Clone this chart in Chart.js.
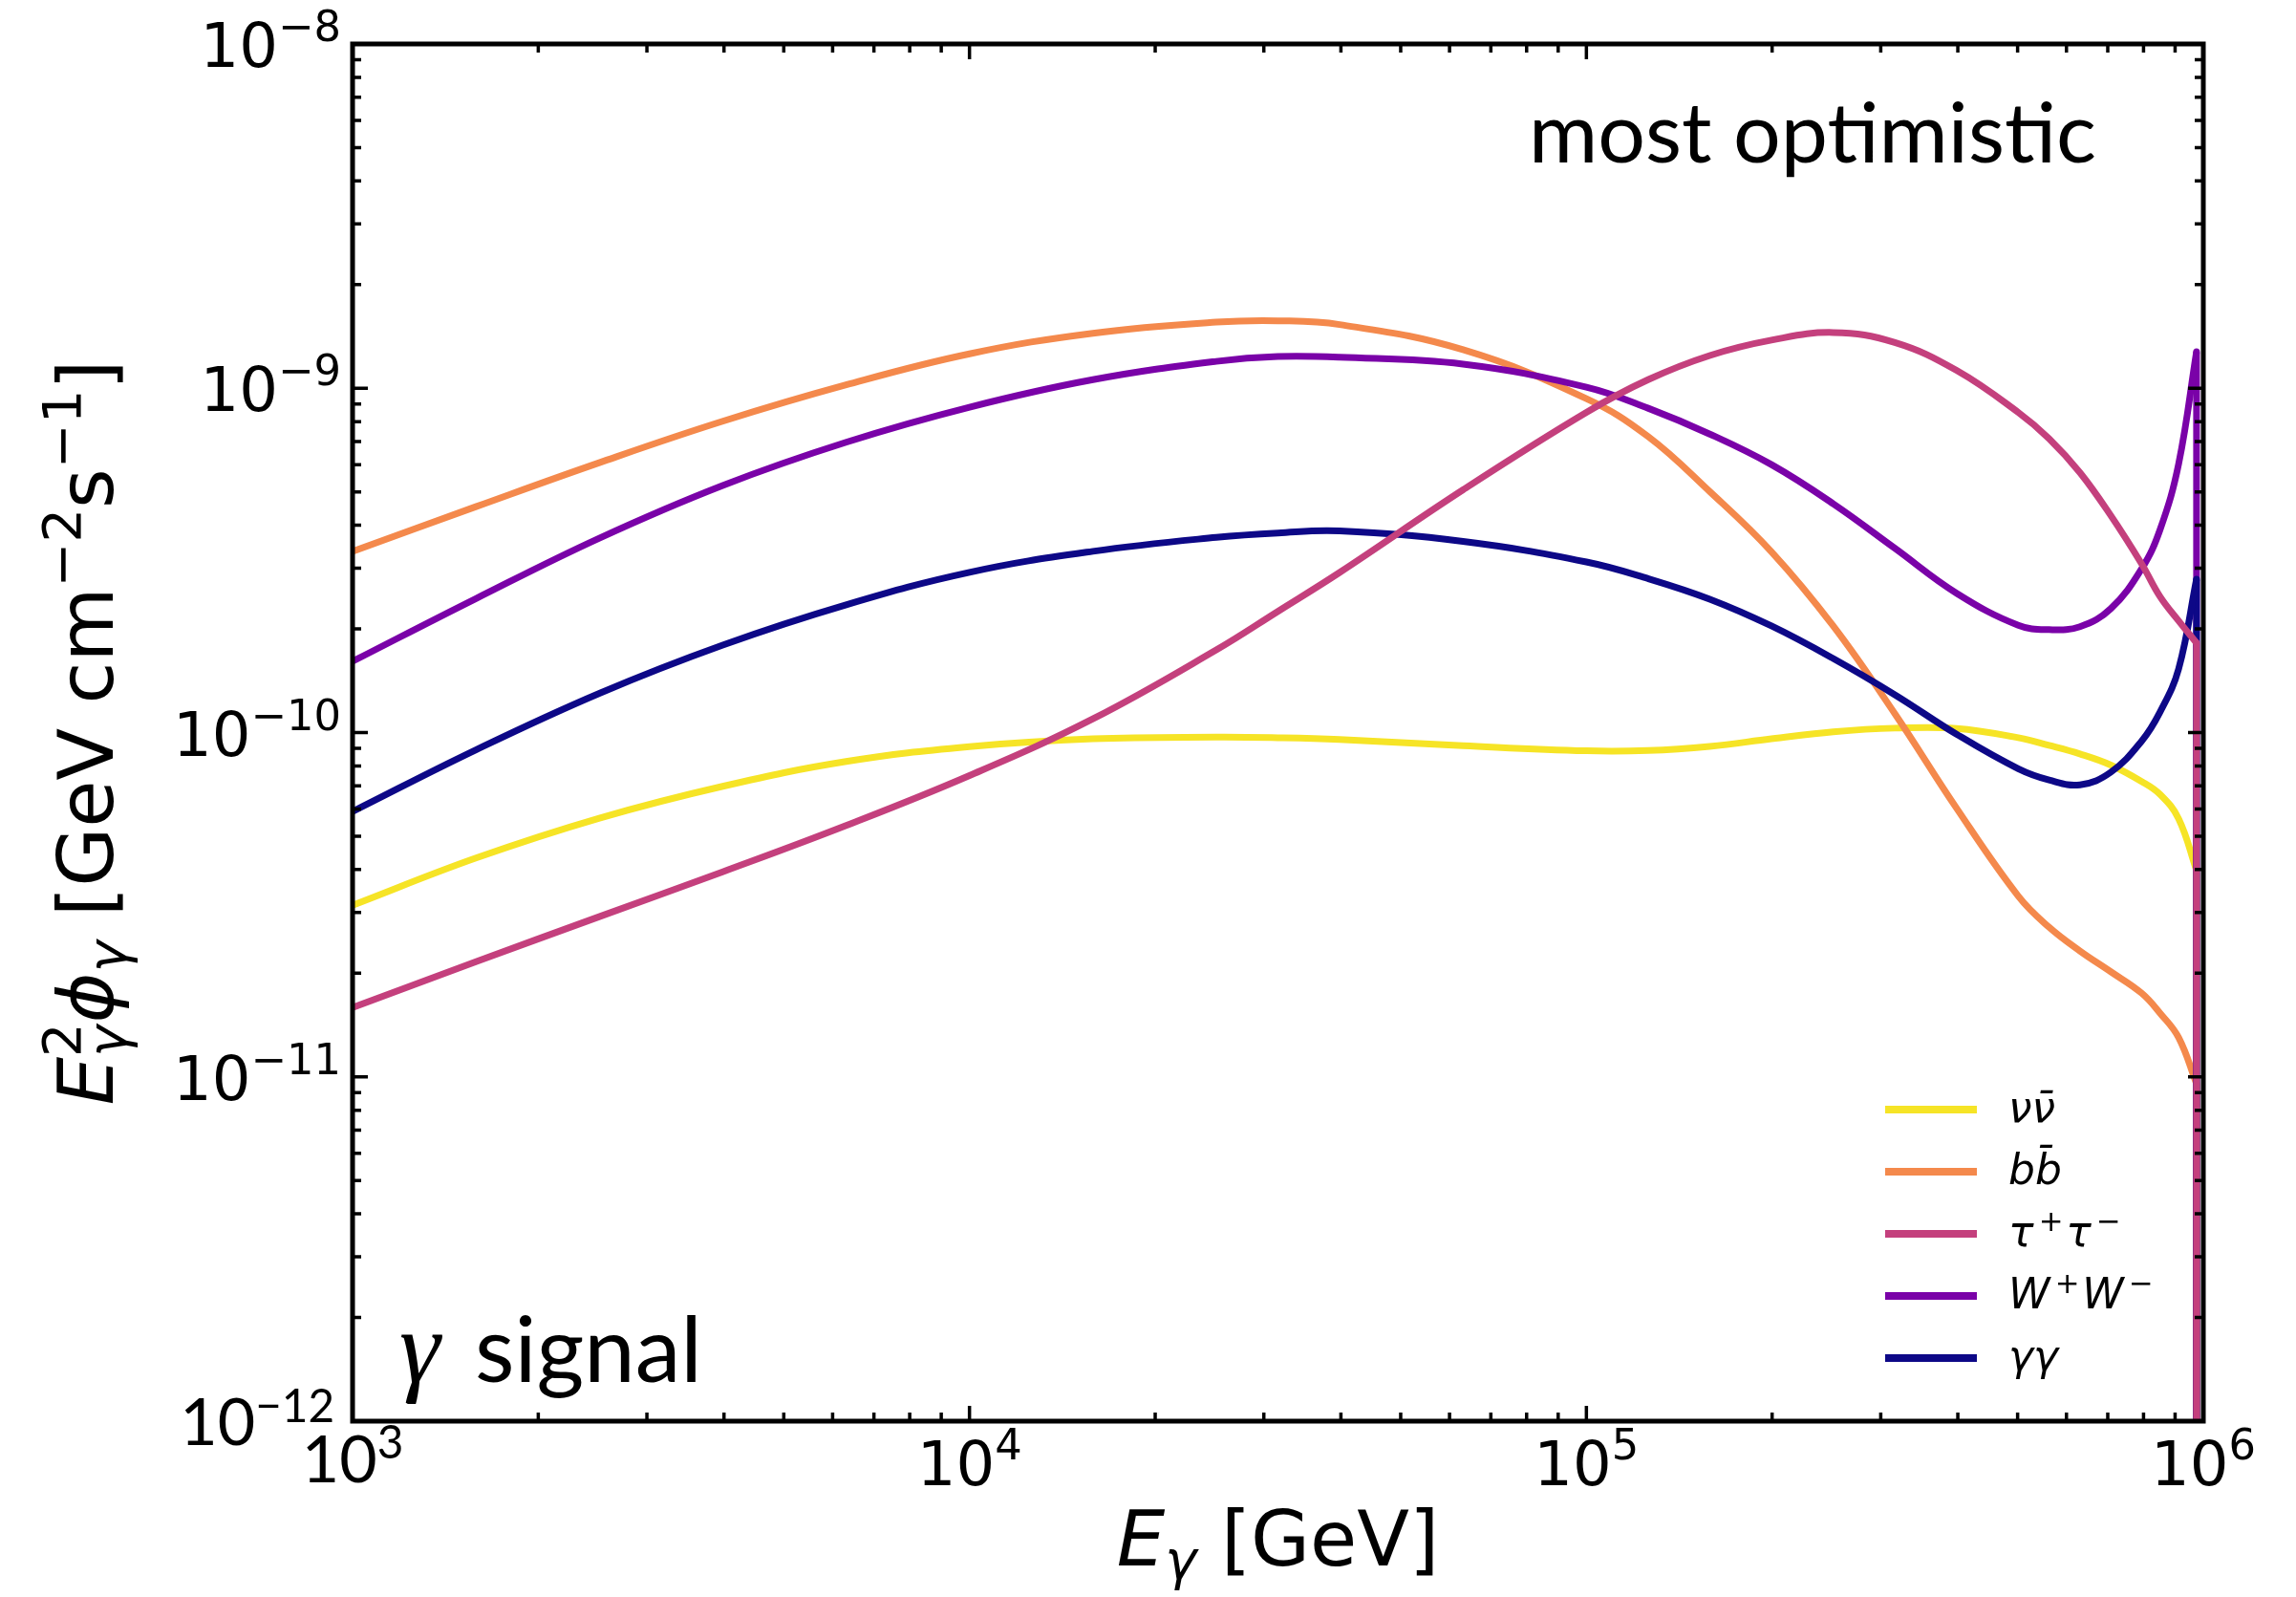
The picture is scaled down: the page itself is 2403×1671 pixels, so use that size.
<!DOCTYPE html>
<html>
<head>
<meta charset="utf-8">
<title>γ signal – most optimistic</title>
<script src="https://cdn.jsdelivr.net/npm/chart.js@4.4.1/dist/chart.umd.min.js"></script>
<style>
  html, body { margin: 0; padding: 0; background: #fff; }
  canvas { display: block; }
</style>
</head>
<body>
<canvas id="spec" width="2403" height="1671"></canvas>
<script>
// photon energy grid [GeV]
const energy = [1000, 1585, 2512, 3981, 6310, 1.0e4, 1.585e4, 2.512e4, 3.162e4, 3.981e4, 6.31e4,
  1.0e5, 1.259e5, 1.585e5, 1.995e5, 2.512e5, 3.162e5, 3.981e5, 5.012e5, 5.623e5, 6.31e5,
  7.079e5, 7.943e5, 8.511e5, 9.12e5, 9.75e5];
// every spectrum stops at the DM mass and falls straight down
const cutEnergy = 9.75e5;
const fluxFloor = 1e-14;

// E^2 dPhi/dE [GeV cm^-2 s^-1] per annihilation channel
const fluxNuNu = [3.15e-11, 4.32e-11, 5.64e-11, 6.98e-11, 8.24e-11, 9.10e-11, 9.59e-11, 9.70e-11, 9.66e-11, 9.55e-11, 9.16e-11,
  8.85e-11, 8.87e-11, 9.12e-11, 9.59e-11, 1.005e-10, 1.030e-10, 1.028e-10, 9.66e-11, 9.18e-11, 8.67e-11,
  8.05e-11, 7.21e-11, 6.61e-11, 5.62e-11, 3.98e-11];
const fluxBB = [3.36e-10, 4.53e-10, 6.08e-10, 8.02e-10, 1.023e-9, 1.259e-9, 1.445e-9, 1.556e-9, 1.570e-9, 1.531e-9, 1.294e-9,
  9.33e-10, 7.24e-10, 5.01e-10, 3.35e-10, 2.04e-10, 1.135e-10, 6.03e-11, 3.35e-11, 2.72e-11, 2.32e-11,
  2.02e-11, 1.75e-11, 1.53e-11, 1.30e-11, 9.55e-12];
const fluxTauTau = [1.59e-11, 2.16e-11, 2.92e-11, 3.94e-11, 5.37e-11, 7.50e-11, 1.096e-10, 1.738e-10, 2.249e-10, 2.917e-10, 5.07e-10,
  8.51e-10, 1.059e-9, 1.245e-9, 1.380e-9, 1.452e-9, 1.358e-9, 1.127e-9, 8.51e-10, 7.14e-10, 5.69e-10,
  4.27e-10, 3.09e-10, 2.48e-10, 2.11e-10, 1.82e-10];
const fluxWW = [1.61e-10, 2.45e-10, 3.67e-10, 5.22e-10, 6.97e-10, 8.81e-10, 1.059e-9, 1.197e-9, 1.236e-9, 1.230e-9, 1.175e-9,
  1.007e-9, 8.75e-10, 7.36e-10, 6.00e-10, 4.62e-10, 3.43e-10, 2.54e-10, 2.05e-10, 1.99e-10, 2.03e-10,
  2.29e-10, 2.99e-10, 3.89e-10, 6.03e-10, 1.276e-9];
const fluxGG = [5.90e-11, 8.91e-11, 1.300e-10, 1.795e-10, 2.35e-10, 2.92e-10, 3.36e-10, 3.69e-10, 3.80e-10, 3.85e-10, 3.59e-10,
  3.13e-10, 2.80e-10, 2.44e-10, 2.04e-10, 1.641e-10, 1.288e-10, 9.89e-11, 7.85e-11, 7.28e-11, 7.05e-11,
  7.67e-11, 9.44e-11, 1.148e-10, 1.531e-10, 2.79e-10];

const channelLabels = ['νν̄', 'bb̄', 'τ⁺τ⁻', 'W⁺W⁻', 'γγ'];
const channelFlux = [fluxNuNu, fluxBB, fluxTauTau, fluxWW, fluxGG];
const channelColors = ['#f6e426', '#f4894c', '#c4407d', '#7a02a8', '#0d0887'];
// draw order: τ⁺τ⁻ ends up on top, νν̄ at the bottom
const channelOrder = [4, 3, 0, 2, 1];

const xDecades = [3, 4, 5, 6];
const yDecades = [-8, -9, -10, -11, -12];

const DEJAVU = '"DejaVu Sans"';
const LATO = 'Lato';

// ---- little mathtext-like text helper ----
function runFont(r, size) {
  const s = r.pos ? size * 0.7 : size;
  return (r.it ? 'italic ' : '') + s + 'px ' + (r.fam || DEJAVU);
}

function drawRuns(ctx, runs, x, y, size, align, opt) {
  const sup = (opt && opt.sup) || 0.42;
  const sub = (opt && opt.sub) || 0.16;
  const widths = runs.map(r => {
    if (r.gap) return r.gap * size;
    ctx.font = runFont(r, size);
    return ctx.measureText(r.t).width;
  });
  // runs flagged "keep" share their x with the following run (stacked sup/sub)
  let total = 0;
  for (let i = 0; i < runs.length; i++) {
    if (runs[i].keep) { total += Math.max(widths[i], widths[i + 1]); i++; }
    else total += widths[i];
  }
  let cx = align === 'right' ? x - total : align === 'center' ? x - total / 2 : x;
  for (let i = 0; i < runs.length; i++) {
    const r = runs[i];
    if (!r.gap) {
      ctx.font = runFont(r, size);
      const dy = r.pos === 'sup' ? -size * sup : r.pos === 'sub' ? size * sub : 0;
      ctx.fillText(r.t, cx, y + dy);
    }
    if (r.keep) continue;
    const prev = runs[i - 1];
    cx += prev && prev.keep ? Math.max(widths[i - 1], widths[i]) : widths[i];
  }
  return total;
}

function powerRuns(exp, fam) {
  return [{ t: '10', fam }, { t: String(exp).replace('-', '−'), pos: 'sup', fam }];
}

// legend strings: turn ⁺ / ⁻ into small raised signs
function legendRuns(label) {
  const runs = [];
  for (const ch of label) {
    if (ch === '⁺' || ch === '⁻') {
      runs.push({ gap: 0.12 });
      runs.push({ t: ch === '⁺' ? '+' : '−', pos: 'sup' });
      runs.push({ gap: 0.06 });
    } else if (ch === '\u0304') {
      runs[runs.length - 1].t += ch;
    } else {
      runs.push({ t: ch, it: true });
    }
  }
  return runs;
}

const paperBg = {
  id: 'paperBg',
  beforeDraw(chart) {
    const ctx = chart.ctx;
    ctx.save();
    ctx.fillStyle = '#fff';
    ctx.fillRect(0, 0, chart.width, chart.height);
    ctx.restore();
  }
};

const axesBox = {
  id: 'axesBox',
  afterDraw(chart) {
    const ctx = chart.ctx;
    const { left, right, top, bottom } = chart.chartArea;
    const xs = chart.scales.x, ys = chart.scales.y;
    ctx.save();
    ctx.fillStyle = '#000';
    ctx.strokeStyle = '#000';

    // inward ticks on all four sides
    ctx.lineWidth = 3.5;
    ctx.beginPath();
    for (let d = 3; d <= 6; d++) {
      for (let k = 1; k <= 9; k++) {
        const v = k * Math.pow(10, d);
        if (v > 1e6) break;
        const px = xs.getPixelForValue(v);
        const len = k === 1 ? 16 : 9;
        ctx.moveTo(px, bottom); ctx.lineTo(px, bottom - len);
        ctx.moveTo(px, top); ctx.lineTo(px, top + len);
      }
    }
    for (let d = -12; d <= -8; d++) {
      for (let k = 1; k <= 9; k++) {
        const v = k * Math.pow(10, d);
        if (v > 1.0001e-8) break;
        const py = ys.getPixelForValue(v);
        const len = k === 1 ? 16 : 9;
        ctx.moveTo(left, py); ctx.lineTo(left + len, py);
        ctx.moveTo(right, py); ctx.lineTo(right - len, py);
      }
    }
    ctx.stroke();

    ctx.lineWidth = 5;
    ctx.strokeRect(left, top, right - left, bottom - top);

    // tick labels
    ctx.textBaseline = 'alphabetic';
    yDecades.forEach(d => {
      const py = ys.getPixelForValue(Math.pow(10, d));
      if (d === -12) drawRuns(ctx, powerRuns(d, LATO), left - 19, py + 25, 68, 'right', { sup: 0.36 });
      else drawRuns(ctx, powerRuns(d), left - 12, py + 24, 64, 'right');
    });
    xDecades.forEach(d => {
      const px = xs.getPixelForValue(Math.pow(10, d));
      if (d === 3) drawRuns(ctx, powerRuns(d, LATO), px, bottom + 64, 68, 'center', { sup: 0.37 });
      else drawRuns(ctx, powerRuns(d), px, bottom + 67, 64, 'center');
    });

    // axis titles
    drawRuns(ctx, [{ t: 'E', it: true }, { t: 'γ', it: true, pos: 'sub' }, { t: ' [GeV]' }],
      (left + right) / 2, 1638, 80, 'center', { sub: 0.17 });
    ctx.save();
    ctx.translate(118, (top + bottom) / 2);
    ctx.rotate(-Math.PI / 2);
    drawRuns(ctx, [
      { t: 'E', it: true }, { t: '2', pos: 'sup', keep: true }, { t: 'γ', it: true, pos: 'sub' },
      { t: 'ϕ', it: true }, { t: 'γ', it: true, pos: 'sub' },
      { t: ' [GeV cm' }, { t: '−2', pos: 'sup' }, { t: 's' }, { t: '−1', pos: 'sup' }, { t: ']' }
    ], 0, 0, 80, 'center', { sub: 0.17 });
    ctx.restore();

    // legend, in channel order
    channelLabels.forEach((lab, i) => {
      const ry = 1161 + i * 65;
      ctx.strokeStyle = channelColors[i];
      ctx.lineWidth = 8;
      ctx.beginPath();
      ctx.moveTo(1973, ry); ctx.lineTo(2069, ry);
      ctx.stroke();
      drawRuns(ctx, legendRuns(lab), 2102, ry + 13, 44, 'left', { sup: 0.36 });
    });

    // annotations
    ctx.font = '100px ' + LATO;
    let s = 100 * 594 / ctx.measureText('most optimistic').width;
    ctx.font = s + 'px ' + LATO;
    ctx.fillText('most optimistic', 1600, 170);

    ctx.font = 'italic 108px "Liberation Serif"';
    ctx.fillText('γ', 418, 1446);
    ctx.font = '100px ' + LATO;
    s = 100 * 238 / ctx.measureText('signal').width;
    ctx.font = s + 'px ' + LATO;
    ctx.fillText('signal', 497, 1446);

    ctx.restore();
  }
};

const spectra = channelLabels.map((lab, i) => ({
  label: lab,
  data: energy.map((e, j) => ({ x: e, y: channelFlux[i][j] })),
  borderColor: channelColors[i],
  order: channelOrder[i],
  tension: 0.4
}));
// vertical drop at the end of each spectrum
const cutoffs = channelLabels.map((lab, i) => ({
  label: lab + ' cutoff',
  data: [{ x: cutEnergy, y: channelFlux[i][channelFlux[i].length - 1] }, { x: cutEnergy, y: fluxFloor }],
  borderColor: channelColors[i],
  order: channelOrder[i],
  tension: 0,
  borderCapStyle: 'round'
}));

new Chart(document.getElementById('spec'), {
  type: 'line',
  data: { datasets: spectra.concat(cutoffs) },
  options: {
    responsive: false,
    animation: false,
    devicePixelRatio: 1,
    layout: { padding: { top: 46, right: 97, left: 0, bottom: 0 } },
    elements: {
      point: { radius: 0, hoverRadius: 0 },
      line: { borderWidth: 7, fill: false, borderCapStyle: 'butt', borderJoinStyle: 'round' }
    },
    plugins: { legend: { display: false }, tooltip: { enabled: false } },
    scales: {
      x: {
        type: 'logarithmic', min: 1e3, max: 1e6,
        ticks: { display: false }, grid: { display: false }, border: { display: false },
        afterFit(scale) { scale.height = 184; }
      },
      y: {
        type: 'logarithmic', min: 1e-12, max: 1e-8,
        ticks: { display: false }, grid: { display: false }, border: { display: false },
        afterFit(scale) { scale.width = 369; }
      }
    }
  },
  plugins: [paperBg, axesBox]
});
</script>
</body>
</html>
